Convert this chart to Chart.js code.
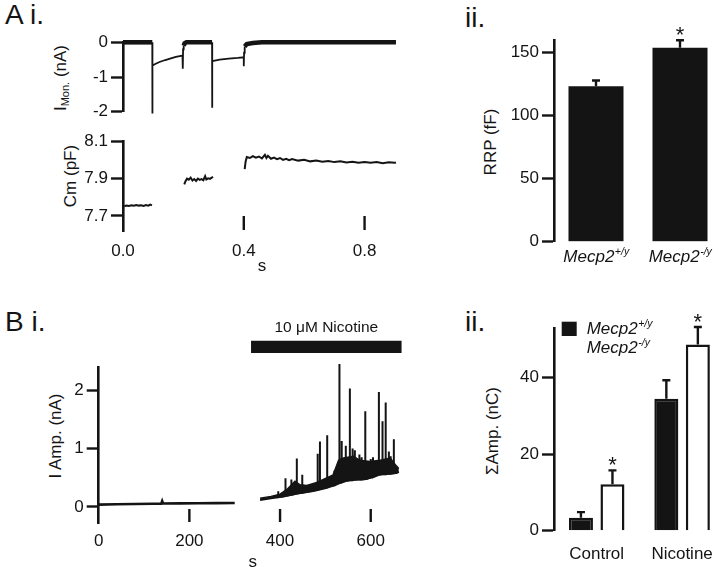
<!DOCTYPE html>
<html>
<head>
<meta charset="utf-8">
<script src="https://cdn.jsdelivr.net/npm/chart.js@4.4.1/dist/chart.umd.min.js"></script>
<style>
  html, body { margin: 0; padding: 0; background: #fff; overflow: hidden; }
  body { width: 720px; height: 567px; position: relative; font-family: 'Liberation Sans', Arial, sans-serif; color: #141414; }
  canvas { position: absolute; }
  .lbl { position: absolute; white-space: nowrap; line-height: 1; }
  .panel { font-size: 28px; }
  .ytitle { font-size: 17px; transform: translate(-50%, -50%) rotate(-90deg); }
  .ytitle sub { font-size: 11px; vertical-align: -3px; }
</style>
</head>
<body>
<div class="lbl panel" style="left:5px;top:1px">A i.</div>
<div class="lbl panel" style="left:465px;top:4px">ii.</div>
<div class="lbl panel" style="left:5px;top:308px">B i.</div>
<div class="lbl panel" style="left:465px;top:308px">ii.</div>

<div class="lbl ytitle" style="left:61px;top:78px">I<sub>Mon.</sub> (nA)</div>
<div class="lbl ytitle" style="left:70px;top:176px">Cm (pF)</div>
<div class="lbl ytitle" style="left:490px;top:142px">RRP (fF)</div>
<div class="lbl ytitle" style="left:55px;top:436px">I Amp. (nA)</div>
<div class="lbl ytitle" style="left:492px;top:431px">ΣAmp. (nC)</div>

<canvas id="aCur"></canvas>
<canvas id="aCm"></canvas>
<canvas id="aRrp"></canvas>
<canvas id="bTrace"></canvas>
<canvas id="bAmp"></canvas>

<script>
// ---- A i: monitored current (nA) and membrane capacitance (pF) vs time (s)
const iMonTrace = [
  [0, 0], [0.097, 0], [0.097, -2.05], [0.098, -0.67], [0.11, -0.61], [0.123, -0.56], [0.14, -0.51],
  [0.156, -0.47], [0.175, -0.42], [0.197, -0.38],
  [0.198, -0.76], [0.199, -0.2], [0.201, -0.1], [0.204, -0.03], [0.21, 0], [0.295, 0],
  [0.295, -1.88], [0.296, -0.54], [0.32, -0.5], [0.35, -0.47], [0.38, -0.45], [0.4, -0.43],
  [0.4, -0.69], [0.401, -0.3], [0.403, -0.12], [0.41, -0.05], [0.43, -0.02], [0.46, 0], [0.904, 0]
];
const cmSeg1 = [
  [0.004, 7.752], [0.012, 7.756], [0.02, 7.753], [0.028, 7.757], [0.036, 7.754], [0.044, 7.758],
  [0.052, 7.755], [0.06, 7.757], [0.068, 7.753], [0.076, 7.758], [0.084, 7.755], [0.09, 7.76], [0.096, 7.756]
];
const cmSeg2 = [
  [0.203, 7.869], [0.207, 7.886], [0.212, 7.9], [0.218, 7.894], [0.224, 7.905], [0.23, 7.889],
  [0.236, 7.897], [0.242, 7.887], [0.248, 7.9], [0.254, 7.893], [0.26, 7.897], [0.266, 7.891],
  [0.272, 7.913], [0.276, 7.895], [0.282, 7.901], [0.288, 7.898], [0.294, 7.905], [0.298, 7.91]
];
const cmSeg3 = [
  [0.403, 7.95], [0.406, 7.99], [0.41, 8.015], [0.42, 8.01], [0.43, 8.02], [0.44, 8.012], [0.45, 8.018],
  [0.46, 8.008], [0.47, 8.027], [0.475, 8.01], [0.48, 8.022], [0.49, 8.006], [0.5, 8.012], [0.51, 8.004],
  [0.52, 8.01], [0.53, 8.0], [0.54, 8.006], [0.55, 7.998], [0.56, 8.004], [0.58, 7.996], [0.6, 8.0],
  [0.62, 7.992], [0.64, 7.996], [0.66, 7.99], [0.68, 7.994], [0.7, 7.988], [0.72, 7.992], [0.74, 7.986],
  [0.76, 7.99], [0.78, 7.984], [0.8, 7.988], [0.82, 7.984], [0.84, 7.988], [0.86, 7.982], [0.88, 7.987],
  [0.9, 7.984], [0.904, 7.986]
];
const iMonTicks = [0, -1, -2];
const cmTicks = [8.1, 7.9, 7.7];
const timeTicksA = [0, 0.4, 0.8];

// ---- A ii: readily releasable pool (fF)
const genotypeBase = 'Mecp2';
const genotypeSup = ['+/y', '-/y'];
const rrpMean = [123, 153.5];
const rrpSem = [5.3, 6.6];
const rrpStar = [false, true];
const rrpTicks = [0, 50, 100, 150];

// ---- B i: amperometric current (nA) vs time (s)
const ctrlTrace = [
  [0, 0.04], [40, 0.045], [80, 0.05], [120, 0.054], [138, 0.056], [140, 0.1], [142, 0.058],
  [180, 0.06], [220, 0.062], [260, 0.065], [300, 0.066]
];
const nicBase = [
  [356, 0.12], [380, 0.15], [407, 0.18], [444, 0.24], [481, 0.29], [517, 0.38], [547, 0.45],
  [570, 0.47], [591, 0.48], [613, 0.55], [635, 0.57], [657, 0.58], [662, 0.6]
];
const nicEnvelope = [
  [356, 0.15], [380, 0.18], [400, 0.22], [415, 0.3], [433, 0.44], [444, 0.38], [459, 0.37],
  [481, 0.42], [503, 0.5], [517, 0.55], [529, 0.8], [540, 0.84], [562, 0.87], [576, 0.8],
  [598, 0.78], [621, 0.8], [643, 0.84], [657, 0.7], [662, 0.66]
];
const spikeTimes = [396, 412, 425, 437, 449, 470, 483, 488, 504, 520, 531, 536, 545, 554, 560, 565, 575, 580, 588, 600, 605, 618, 626, 633, 640, 644, 651];
const spikePeaks = [0.27, 0.49, 0.47, 0.83, 0.55, 0.38, 0.91, 1.12, 1.23, 0.62, 2.45, 1.13, 1.05, 2.03, 1.0, 0.97, 0.9, 0.85, 1.64, 0.82, 0.85, 1.97, 1.47, 1.79, 0.95, 0.87, 1.16];
const spikeBase  = [0.17, 0.19, 0.21, 0.23, 0.24, 0.27, 0.29, 0.3, 0.33, 0.37, 0.41, 0.42, 0.45, 0.46, 0.46, 0.47, 0.47, 0.47, 0.48, 0.5, 0.51, 0.55, 0.56, 0.56, 0.57, 0.57, 0.58];
const nicotineLabel = '10 μM Nicotine';
const nicotineWindow = [336, 668];
const ampTicks = [0, 1, 2];
const timeTicksB = [0, 200, 400, 600];

// ---- B ii: summed amperometric charge (nC)
const conditions = ['Control', 'Nicotine'];
const sumWT = [3.4, 34.4];
const sumWTsem = [1.7, 5.1];
const sumKO = [12.1, 48.6];
const sumKOsem = [3.9, 4.8];
const sumKOstar = [true, true];
const sumTicks = [0, 20, 40];

const INK = '#141414';
const FONT = "'Liberation Sans', Arial, Helvetica, sans-serif";
Chart.defaults.font.family = FONT;
Chart.defaults.font.size = 17;
Chart.defaults.color = INK;

function mount(id, box) {
  const c = document.getElementById(id);
  c.width = box.w; c.height = box.h;
  Object.assign(c.style, { left: box.l + 'px', top: box.t + 'px', width: box.w + 'px', height: box.h + 'px' });
  return c.getContext('2d');
}

// fixed chart area inside a canvas box (page coordinates)
function frame(box, area) {
  return {
    padding: { left: 0, right: box.l + box.w - area.right, top: area.top - box.t, bottom: 0 },
    yWidth: area.left - box.l,
    xHeight: box.t + box.h - area.bottom
  };
}

function yAxis(fr, min, max, ticks, fmt) {
  return {
    type: 'linear', min, max,
    afterFit: s => { s.width = fr.yWidth; },
    afterBuildTicks: s => { s.ticks = ticks.map(v => ({ value: v })); },
    border: { display: true, color: INK, width: 2.6 },
    grid: { drawOnChartArea: false, drawTicks: true, tickLength: 12, tickWidth: 2.4, tickColor: INK },
    ticks: { padding: 3, color: INK, callback: fmt || (v => String(v)) }
  };
}

function xAxis(fr, type, opts) {
  return Object.assign({
    type,
    afterFit: s => { s.height = fr.xHeight; },
    border: { display: false },
    grid: { display: false },
    ticks: { display: false }
  }, opts);
}

function drawSup(ctx, base, sup, x, baseline, size, align) {
  ctx.font = `italic ${size}px ${FONT}`;
  const wb = ctx.measureText(base).width;
  ctx.font = `italic ${size * 0.62}px ${FONT}`;
  const ws = ctx.measureText(sup).width;
  const x0 = align === 'left' ? x : x - (wb + ws) / 2;
  ctx.textAlign = 'left';
  ctx.textBaseline = 'alphabetic';
  ctx.fillStyle = INK;
  ctx.font = `italic ${size}px ${FONT}`;
  ctx.fillText(base, x0, baseline);
  ctx.font = `italic ${size * 0.62}px ${FONT}`;
  ctx.fillText(sup, x0 + wb + 0.5, baseline - size * 0.4);
}

// short x tick marks standing up from the bottom of the plot area
const upTicks = {
  id: 'upTicks',
  afterDatasetsDraw(chart, args, opts) {
    const { ctx, chartArea, scales } = chart;
    ctx.save();
    ctx.strokeStyle = INK;
    ctx.lineWidth = 2.4;
    opts.values.forEach(v => {
      const px = scales.x.getPixelForValue(v);
      ctx.beginPath();
      ctx.moveTo(px, chartArea.bottom - 1);
      ctx.lineTo(px, chartArea.bottom - 1 - opts.length);
      ctx.stroke();
    });
    ctx.restore();
  }
};

// SEM whiskers and significance stars on bar datasets
const errorBars = {
  id: 'errorBars',
  afterDatasetsDraw(chart) {
    const { ctx, scales } = chart;
    ctx.save();
    ctx.strokeStyle = INK;
    ctx.fillStyle = INK;
    chart.data.datasets.forEach((ds, di) => {
      chart.getDatasetMeta(di).data.forEach((bar, i) => {
        const top = scales.y.getPixelForValue(ds.data[i] + ds.errors[i]);
        ctx.lineWidth = 2.4;
        ctx.beginPath();
        ctx.moveTo(bar.x, bar.y);
        ctx.lineTo(bar.x, top);
        ctx.moveTo(bar.x - 4, top + 1);
        ctx.lineTo(bar.x + 4, top + 1);
        ctx.stroke();
        if (ds.stars && ds.stars[i]) {
          ctx.font = `22px ${FONT}`;
          ctx.textAlign = 'center';
          ctx.textBaseline = 'alphabetic';
          ctx.fillText('*', bar.x, top + 3);
        }
      });
    });
    ctx.restore();
  }
};

// ---------------- A i, top: I Mon.
{
  const box = { l: 0, t: 0, w: 410, h: 125 };
  const fr = frame(box, { left: 123, top: 42.3, right: 400.8, bottom: 117.3 });
  new Chart(mount('aCur', box), {
    type: 'line',
    data: {
      datasets: [{
        data: iMonTrace, borderColor: INK, borderWidth: 1.8, pointRadius: 0, clip: false,
        segment: { borderWidth: c => (c.p0.parsed.y > -0.15 && c.p1.parsed.y > -0.15) ? 4.6 : 1.8 }
      }]
    },
    options: {
      responsive: false, animation: false, events: [],
      layout: { padding: fr.padding },
      plugins: { legend: { display: false }, tooltip: { enabled: false } },
      scales: {
        x: xAxis(fr, 'linear', { min: 0, max: 0.92 }),
        y: yAxis(fr, -2, 0, iMonTicks)
      }
    }
  });
}

// ---------------- A i, bottom: Cm
{
  const box = { l: 0, t: 128, w: 410, h: 149 };
  const fr = frame(box, { left: 123, top: 136, right: 400.8, bottom: 231 });
  const line = d => ({ data: d, borderColor: INK, borderWidth: 2, pointRadius: 0 });
  new Chart(mount('aCm', box), {
    type: 'line',
    data: { datasets: [line(cmSeg1), line(cmSeg2), line(cmSeg3)] },
    plugins: [upTicks],
    options: {
      responsive: false, animation: false, events: [],
      layout: { padding: fr.padding },
      plugins: { legend: { display: false }, tooltip: { enabled: false }, upTicks: { values: [0.4, 0.8], length: 14 } },
      scales: {
        x: xAxis(fr, 'linear', {
          min: 0, max: 0.92,
          afterBuildTicks: s => { s.ticks = timeTicksA.map(v => ({ value: v })); },
          ticks: { display: true, padding: 2, color: INK, maxRotation: 0, callback: v => v.toFixed(1) },
          title: { display: true, text: 's', color: INK, padding: 0, font: { size: 17 } }
        }),
        y: yAxis(fr, 7.619, 8.1, cmTicks, v => v.toFixed(1))
      }
    }
  });
}

// ---------------- A ii: RRP
{
  const box = { l: 430, t: 0, w: 296, h: 285 };
  const fr = frame(box, { left: 554, top: 40.7, right: 722, bottom: 241.7 });
  const supTicks = {
    id: 'supTicks',
    afterDraw(chart) {
      const { ctx, chartArea, scales } = chart;
      ctx.save();
      genotypeSup.forEach((s, i) => drawSup(ctx, genotypeBase, s, scales.x.getPixelForValue(i), chartArea.bottom + 20.3, 17));
      ctx.restore();
    }
  };
  new Chart(mount('aRrp', box), {
    type: 'bar',
    data: {
      labels: genotypeSup.map(s => genotypeBase + s),
      datasets: [{
        data: rrpMean, errors: rrpSem, stars: rrpStar,
        backgroundColor: INK, borderWidth: 0, barPercentage: 0.655, categoryPercentage: 1
      }]
    },
    plugins: [errorBars, supTicks],
    options: {
      responsive: false, animation: false, events: [],
      layout: { padding: fr.padding },
      plugins: { legend: { display: false }, tooltip: { enabled: false } },
      scales: {
        x: xAxis(fr, 'category', {}),
        y: yAxis(fr, 0, 159, rrpTicks)
      }
    }
  });
}

// ---------------- B i: amperometry trace
{
  const box = { l: 0, t: 300, w: 420, h: 273 };
  const fr = frame(box, { left: 98.7, top: 367, right: 407, bottom: 523 });
  const spikes = spikeTimes.flatMap((t, i) => [[t, spikeBase[i]], [t, spikePeaks[i]], [t, spikeBase[i]]]);
  const drugLabel = {
    id: 'drugLabel',
    afterDatasetsDraw(chart) {
      const ds = chart.data.datasets[4];
      const [a, b] = chart.getDatasetMeta(4).data;
      const ctx = chart.ctx;
      ctx.save();
      ctx.fillStyle = INK;
      ctx.font = `15.5px ${FONT}`;
      ctx.textAlign = 'center';
      ctx.textBaseline = 'alphabetic';
      ctx.fillText(nicotineLabel, (a.x + b.x) / 2, a.y - ds.borderWidth / 2 - 8.5);
      ctx.restore();
    }
  };
  new Chart(mount('bTrace', box), {
    type: 'line',
    data: {
      datasets: [
        { data: nicEnvelope, borderColor: INK, backgroundColor: INK, borderWidth: 1.4, pointRadius: 0, fill: '+1', clip: false },
        { data: nicBase, borderColor: INK, borderWidth: 2, pointRadius: 0, clip: false },
        { data: spikes, borderColor: INK, borderWidth: 2, pointRadius: 0, clip: false },
        { data: ctrlTrace, borderColor: INK, borderWidth: 2.6, pointRadius: 0, clip: false },
        {
          data: [[nicotineWindow[0], 2.744], [nicotineWindow[1], 2.744]],
          borderColor: INK, borderWidth: 12.3, borderCapStyle: 'butt', pointRadius: 0, clip: false
        }
      ]
    },
    plugins: [upTicks, drugLabel],
    options: {
      responsive: false, animation: false, events: [],
      layout: { padding: fr.padding },
      plugins: { legend: { display: false }, tooltip: { enabled: false }, upTicks: { values: [200, 400, 600], length: 13 } },
      scales: {
        x: xAxis(fr, 'linear', {
          min: 0, max: 680,
          afterBuildTicks: s => { s.ticks = timeTicksB.map(v => ({ value: v })); },
          ticks: { display: true, padding: 0, color: INK, maxRotation: 0, callback: v => String(v) },
          title: { display: true, text: 's', color: INK, padding: 0, font: { size: 17 } }
        }),
        y: yAxis(fr, -0.276, 2.4, ampTicks)
      }
    }
  });
}

// ---------------- B ii: summed charge
{
  const box = { l: 430, t: 290, w: 300, h: 277 };
  const fr = frame(box, { left: 554, top: 328.3, right: 724.8, bottom: 530.7 });
  const supLegend = {
    id: 'supLegend',
    afterDraw(chart) {
      const { ctx, chartArea } = chart;
      ctx.save();
      chart.data.datasets.forEach((ds, i) => {
        const top = chartArea.top - 6.6 + i * 19;
        ctx.fillStyle = ds.backgroundColor;
        ctx.fillRect(chartArea.left + 7.7, top, 15, 14.3);
        drawSup(ctx, genotypeBase, genotypeSup[i], chartArea.left + 32.7, top + 12.3, 17, 'left');
      });
      ctx.restore();
    }
  };
  const bar = (data, errors, stars, fill) => ({
    data, errors, stars, backgroundColor: fill, borderColor: INK, borderWidth: 2.5,
    barPercentage: 0.762, categoryPercentage: 0.738
  });
  new Chart(mount('bAmp', box), {
    type: 'bar',
    data: {
      labels: conditions,
      datasets: [bar(sumWT, sumWTsem, null, INK), bar(sumKO, sumKOsem, sumKOstar, '#ffffff')]
    },
    plugins: [errorBars, supLegend],
    options: {
      responsive: false, animation: false, events: [],
      layout: { padding: fr.padding },
      plugins: { legend: { display: false }, tooltip: { enabled: false } },
      scales: {
        x: xAxis(fr, 'category', { ticks: { display: true, padding: 5.8, color: INK, maxRotation: 0 } }),
        y: yAxis(fr, 0, 52.8, sumTicks)
      }
    }
  });
}
</script>
</body>
</html>
